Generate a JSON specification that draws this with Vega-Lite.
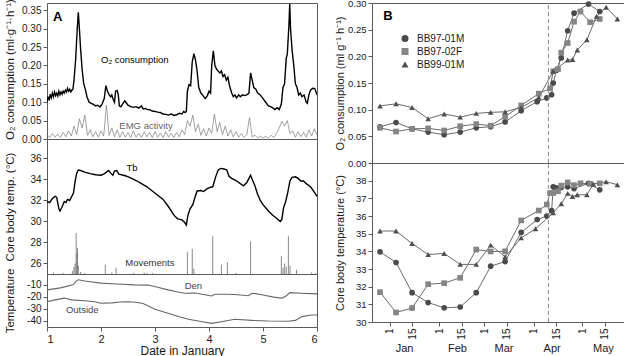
{
"$schema": "https://vega.github.io/schema/vega-lite/v6.json",
"padding": {"left": 3, "top": -3, "right": 0, "bottom": 0},
"spacing": 12,
"config": {
  "font": "Liberation Sans",
  "view": {"stroke": "#5a5a5a", "strokeWidth": 1},
  "axis": {"domain": false, "grid": false, "tickColor": "#5a5a5a", "tickSize": 4, "labelFontSize": 10, "labelColor": "#1a1a1a", "titleFontSize": 11.5, "titleFontWeight": "normal", "titleColor": "#1a1a1a", "labelPadding": 2}
},
"datasets": {
  "emg": [
    {"day":1.00,"v":0.012},{"day":1.05,"v":0.004},{"day":1.10,"v":0.015},{"day":1.15,"v":0.005},{"day":1.20,"v":0.013},{"day":1.25,"v":0.004},{"day":1.30,"v":0.018},{"day":1.35,"v":0.006},{"day":1.40,"v":0.022},{"day":1.45,"v":0.008},
    {"day":1.50,"v":0.035},{"day":1.55,"v":0.012},{"day":1.60,"v":0.055},{"day":1.65,"v":0.03},{"day":1.70,"v":0.065},{"day":1.75,"v":0.01},{"day":1.80,"v":0.025},{"day":1.85,"v":0.006},{"day":1.90,"v":0.02},{"day":1.95,"v":0.005},
    {"day":2.00,"v":0.022},{"day":2.05,"v":0.008},{"day":2.10,"v":0.092},{"day":2.15,"v":0.01},{"day":2.20,"v":0.03},{"day":2.25,"v":0.006},{"day":2.30,"v":0.025},{"day":2.35,"v":0.004},{"day":2.40,"v":0.02},{"day":2.45,"v":0.005},
    {"day":2.50,"v":0.018},{"day":2.55,"v":0.004},{"day":2.60,"v":0.022},{"day":2.65,"v":0.005},{"day":2.70,"v":0.015},{"day":2.75,"v":0.004},{"day":2.80,"v":0.02},{"day":2.85,"v":0.006},{"day":2.90,"v":0.018},{"day":2.95,"v":0.004},
    {"day":3.00,"v":0.02},{"day":3.05,"v":0.005},{"day":3.10,"v":0.016},{"day":3.15,"v":0.004},{"day":3.20,"v":0.02},{"day":3.25,"v":0.005},{"day":3.30,"v":0.015},{"day":3.35,"v":0.004},{"day":3.40,"v":0.018},{"day":3.45,"v":0.006},
    {"day":3.50,"v":0.025},{"day":3.55,"v":0.012},{"day":3.60,"v":0.05},{"day":3.65,"v":0.035},{"day":3.70,"v":0.065},{"day":3.75,"v":0.02},{"day":3.80,"v":0.04},{"day":3.85,"v":0.01},{"day":3.90,"v":0.028},{"day":3.95,"v":0.008},
    {"day":4.00,"v":0.03},{"day":4.05,"v":0.015},{"day":4.10,"v":0.068},{"day":4.15,"v":0.02},{"day":4.20,"v":0.045},{"day":4.25,"v":0.012},{"day":4.30,"v":0.035},{"day":4.35,"v":0.008},{"day":4.40,"v":0.025},{"day":4.45,"v":0.006},
    {"day":4.50,"v":0.02},{"day":4.55,"v":0.005},{"day":4.60,"v":0.015},{"day":4.65,"v":0.004},{"day":4.70,"v":0.012},{"day":4.75,"v":0.058},{"day":4.80,"v":0.006},{"day":4.85,"v":0.01},{"day":4.90,"v":0.003},{"day":4.95,"v":0.008},
    {"day":5.00,"v":0.003},{"day":5.05,"v":0.007},{"day":5.10,"v":0.003},{"day":5.15,"v":0.01},{"day":5.20,"v":0.004},{"day":5.25,"v":0.015},{"day":5.30,"v":0.03},{"day":5.35,"v":0.048},{"day":5.40,"v":0.035},{"day":5.45,"v":0.05},
    {"day":5.50,"v":0.015},{"day":5.55,"v":0.022},{"day":5.60,"v":0.005},{"day":5.65,"v":0.02},{"day":5.70,"v":0.006},{"day":5.75,"v":0.018},{"day":5.80,"v":0.005},{"day":5.85,"v":0.025},{"day":5.90,"v":0.008},{"day":5.95,"v":0.028},
    {"day":6.00,"v":0.01}
  ],
  "o2a": [
    {"day":1.00,"v":0.100},{"day":1.02,"v":0.115},{"day":1.04,"v":0.105},{"day":1.06,"v":0.122},{"day":1.08,"v":0.112},{"day":1.10,"v":0.125},{"day":1.12,"v":0.115},{"day":1.14,"v":0.128},{"day":1.16,"v":0.118},{"day":1.18,"v":0.125},
    {"day":1.20,"v":0.117},{"day":1.22,"v":0.13},{"day":1.24,"v":0.12},{"day":1.26,"v":0.128},{"day":1.28,"v":0.122},{"day":1.30,"v":0.13},{"day":1.32,"v":0.125},{"day":1.34,"v":0.133},{"day":1.36,"v":0.128},{"day":1.38,"v":0.138},
    {"day":1.40,"v":0.13},{"day":1.42,"v":0.135},{"day":1.44,"v":0.128},{"day":1.46,"v":0.133},{"day":1.48,"v":0.135},{"day":1.50,"v":0.16},{"day":1.53,"v":0.215},{"day":1.56,"v":0.3},{"day":1.58,"v":0.345},{"day":1.60,"v":0.3},
    {"day":1.62,"v":0.25},{"day":1.65,"v":0.19},{"day":1.68,"v":0.15},{"day":1.71,"v":0.135},{"day":1.74,"v":0.115},{"day":1.78,"v":0.10},{"day":1.82,"v":0.097},{"day":1.86,"v":0.094},{"day":1.90,"v":0.09},{"day":1.94,"v":0.092},
    {"day":1.98,"v":0.087},{"day":2.02,"v":0.095},{"day":2.06,"v":0.11},{"day":2.09,"v":0.145},{"day":2.12,"v":0.13},{"day":2.15,"v":0.12},{"day":2.18,"v":0.115},{"day":2.20,"v":0.12},{"day":2.22,"v":0.11},{"day":2.25,"v":0.1},
    {"day":2.27,"v":0.13},{"day":2.30,"v":0.132},{"day":2.32,"v":0.12},{"day":2.34,"v":0.09},{"day":2.37,"v":0.088},{"day":2.40,"v":0.095},{"day":2.44,"v":0.104},{"day":2.47,"v":0.098},{"day":2.50,"v":0.092},{"day":2.55,"v":0.088},
    {"day":2.60,"v":0.086},{"day":2.65,"v":0.088},{"day":2.70,"v":0.084},{"day":2.75,"v":0.09},{"day":2.78,"v":0.082},{"day":2.82,"v":0.083},{"day":2.86,"v":0.08},{"day":2.90,"v":0.08},{"day":2.95,"v":0.076},{"day":3.00,"v":0.075},
    {"day":3.05,"v":0.073},{"day":3.10,"v":0.072},{"day":3.15,"v":0.068},{"day":3.20,"v":0.067},{"day":3.25,"v":0.065},{"day":3.30,"v":0.068},{"day":3.35,"v":0.064},{"day":3.40,"v":0.066},{"day":3.45,"v":0.07},{"day":3.50,"v":0.068},
    {"day":3.53,"v":0.075},{"day":3.56,"v":0.072},{"day":3.58,"v":0.075},{"day":3.60,"v":0.13},{"day":3.63,"v":0.148},{"day":3.66,"v":0.145},{"day":3.69,"v":0.21},{"day":3.72,"v":0.232},{"day":3.75,"v":0.215},{"day":3.78,"v":0.185},
    {"day":3.81,"v":0.14},{"day":3.85,"v":0.125},{"day":3.89,"v":0.118},{"day":3.93,"v":0.11},{"day":3.97,"v":0.118},{"day":4.00,"v":0.13},{"day":4.03,"v":0.125},{"day":4.05,"v":0.2},{"day":4.08,"v":0.24},{"day":4.11,"v":0.2},
    {"day":4.14,"v":0.19},{"day":4.17,"v":0.185},{"day":4.20,"v":0.18},{"day":4.23,"v":0.185},{"day":4.26,"v":0.17},{"day":4.29,"v":0.175},{"day":4.32,"v":0.16},{"day":4.35,"v":0.168},{"day":4.38,"v":0.145},{"day":4.42,"v":0.125},
    {"day":4.45,"v":0.115},{"day":4.48,"v":0.12},{"day":4.51,"v":0.112},{"day":4.55,"v":0.12},{"day":4.58,"v":0.115},{"day":4.62,"v":0.12},{"day":4.66,"v":0.118},{"day":4.70,"v":0.12},{"day":4.74,"v":0.125},{"day":4.77,"v":0.18},
    {"day":4.80,"v":0.16},{"day":4.83,"v":0.14},{"day":4.87,"v":0.135},{"day":4.90,"v":0.125},{"day":4.95,"v":0.12},{"day":5.00,"v":0.11},{"day":5.05,"v":0.1},{"day":5.10,"v":0.09},{"day":5.14,"v":0.088},{"day":5.18,"v":0.085},
    {"day":5.22,"v":0.08},{"day":5.26,"v":0.085},{"day":5.30,"v":0.08},{"day":5.34,"v":0.095},{"day":5.37,"v":0.14},{"day":5.40,"v":0.15},{"day":5.43,"v":0.22},{"day":5.45,"v":0.23},{"day":5.48,"v":0.31},{"day":5.495,"v":0.368},
    {"day":5.51,"v":0.3},{"day":5.54,"v":0.24},{"day":5.57,"v":0.2},{"day":5.60,"v":0.15},{"day":5.63,"v":0.14},{"day":5.66,"v":0.12},{"day":5.69,"v":0.125},{"day":5.72,"v":0.115},{"day":5.76,"v":0.12},{"day":5.80,"v":0.1},
    {"day":5.82,"v":0.097},{"day":5.85,"v":0.12},{"day":5.88,"v":0.133},{"day":5.92,"v":0.138},{"day":5.96,"v":0.137},{"day":6.00,"v":0.12}
  ],
  "tb": [
    {"day":1.00,"v":31.9},{"day":1.05,"v":31.8},{"day":1.10,"v":32.2},{"day":1.15,"v":32.4},{"day":1.18,"v":32.3},{"day":1.22,"v":31.2},{"day":1.24,"v":31.0},{"day":1.28,"v":31.4},{"day":1.32,"v":31.9},{"day":1.35,"v":31.8},
    {"day":1.38,"v":32.1},{"day":1.42,"v":32.0},{"day":1.46,"v":32.4},{"day":1.49,"v":32.7},{"day":1.52,"v":33.8},{"day":1.55,"v":34.6},{"day":1.58,"v":34.9},{"day":1.62,"v":34.85},{"day":1.70,"v":34.7},{"day":1.80,"v":34.55},
    {"day":1.90,"v":34.45},{"day":2.00,"v":34.4},{"day":2.05,"v":34.5},{"day":2.10,"v":34.7},{"day":2.14,"v":34.85},{"day":2.18,"v":34.6},{"day":2.22,"v":34.4},{"day":2.25,"v":34.8},{"day":2.29,"v":34.85},{"day":2.33,"v":34.5},
    {"day":2.38,"v":34.45},{"day":2.45,"v":34.35},{"day":2.55,"v":34.15},{"day":2.65,"v":33.9},{"day":2.75,"v":33.6},{"day":2.85,"v":33.3},{"day":2.95,"v":32.9},{"day":3.05,"v":32.5},{"day":3.15,"v":32.1},{"day":3.25,"v":31.4},
    {"day":3.35,"v":30.6},{"day":3.42,"v":30.25},{"day":3.50,"v":30.15},{"day":3.55,"v":29.9},{"day":3.58,"v":29.65},{"day":3.61,"v":30.6},{"day":3.65,"v":31.2},{"day":3.70,"v":31.6},{"day":3.74,"v":32.3},{"day":3.78,"v":32.9},
    {"day":3.85,"v":32.95},{"day":3.90,"v":32.85},{"day":3.96,"v":33.1},{"day":4.02,"v":33.25},{"day":4.07,"v":33.3},{"day":4.12,"v":34.2},{"day":4.17,"v":34.9},{"day":4.22,"v":35.05},{"day":4.28,"v":35.0},{"day":4.33,"v":34.9},
    {"day":4.37,"v":34.3},{"day":4.42,"v":34.1},{"day":4.50,"v":33.9},{"day":4.58,"v":33.6},{"day":4.64,"v":33.4},{"day":4.70,"v":33.7},{"day":4.74,"v":34.1},{"day":4.77,"v":34.4},{"day":4.80,"v":34.0},{"day":4.85,"v":33.4},
    {"day":4.90,"v":32.6},{"day":4.95,"v":32.0},{"day":5.00,"v":31.6},{"day":5.05,"v":31.3},{"day":5.10,"v":31.0},{"day":5.18,"v":30.6},{"day":5.25,"v":30.3},{"day":5.32,"v":30.0},{"day":5.35,"v":30.2},{"day":5.38,"v":31.3},
    {"day":5.42,"v":31.9},{"day":5.46,"v":32.8},{"day":5.50,"v":33.9},{"day":5.54,"v":34.2},{"day":5.60,"v":34.25},{"day":5.65,"v":34.1},{"day":5.70,"v":33.85},{"day":5.75,"v":33.85},{"day":5.80,"v":33.6},{"day":5.88,"v":33.3},
    {"day":5.95,"v":32.8},{"day":6.00,"v":32.4}
  ],
  "mov": [
    {"day":1.12,"v":25.15},{"day":1.3,"v":25.1},{"day":1.47,"v":25.3},{"day":1.5,"v":25.7},{"day":1.52,"v":26.0},{"day":1.54,"v":28.9},{"day":1.555,"v":27.0},{"day":1.565,"v":27.5},{"day":1.58,"v":25.8},{"day":1.62,"v":25.2},
    {"day":1.7,"v":25.1},{"day":2.08,"v":25.9},{"day":2.2,"v":25.15},{"day":2.28,"v":25.6},{"day":2.6,"v":25.1},{"day":2.8,"v":25.15},{"day":2.85,"v":25.1},{"day":2.95,"v":25.1},{"day":3.6,"v":27.1},{"day":3.69,"v":27.4},
    {"day":3.72,"v":25.5},{"day":4.07,"v":28.6},{"day":4.23,"v":25.9},{"day":4.34,"v":26.1},{"day":4.5,"v":25.1},{"day":4.77,"v":28.1},{"day":5.34,"v":26.7},{"day":5.37,"v":25.6},{"day":5.40,"v":26.0},{"day":5.43,"v":25.7},
    {"day":5.47,"v":28.6},{"day":5.5,"v":25.8},{"day":5.62,"v":25.4},{"day":5.9,"v":25.15},{"day":5.97,"v":25.1}
  ],
  "env": [
    {"s":"Den","day":1.00,"v":-14.2},{"s":"Den","day":1.25,"v":-12.5},{"s":"Den","day":1.48,"v":-10.0},{"s":"Den","day":1.55,"v":-6.5},{"s":"Den","day":1.58,"v":-5.8},{"s":"Den","day":1.7,"v":-6.8},
    {"s":"Den","day":2.0,"v":-8.6},{"s":"Den","day":2.3,"v":-9.3},{"s":"Den","day":2.62,"v":-10.0},{"s":"Den","day":2.87,"v":-10.2},{"s":"Den","day":3.05,"v":-12.0},{"s":"Den","day":3.24,"v":-14.2},
    {"s":"Den","day":3.4,"v":-15.8},{"s":"Den","day":3.55,"v":-17.0},{"s":"Den","day":3.74,"v":-16.8},{"s":"Den","day":3.9,"v":-18.0},{"s":"Den","day":4.05,"v":-19.2},{"s":"Den","day":4.11,"v":-17.8},
    {"s":"Den","day":4.3,"v":-17.8},{"s":"Den","day":4.48,"v":-18.0},{"s":"Den","day":4.73,"v":-19.0},{"s":"Den","day":4.78,"v":-17.5},{"s":"Den","day":4.82,"v":-17.0},{"s":"Den","day":5.0,"v":-18.5},
    {"s":"Den","day":5.2,"v":-20.2},{"s":"Den","day":5.35,"v":-21.0},{"s":"Den","day":5.42,"v":-19.5},{"s":"Den","day":5.5,"v":-16.5},{"s":"Den","day":5.7,"v":-17.0},{"s":"Den","day":6.0,"v":-17.5},
    {"s":"Outside","day":1.00,"v":-24.0},{"s":"Outside","day":1.15,"v":-22.5},{"s":"Outside","day":1.32,"v":-21.0},{"s":"Outside","day":1.45,"v":-22.5},{"s":"Outside","day":1.7,"v":-23.2},{"s":"Outside","day":1.88,"v":-24.0},
    {"s":"Outside","day":2.0,"v":-25.3},{"s":"Outside","day":2.2,"v":-25.0},{"s":"Outside","day":2.35,"v":-24.3},{"s":"Outside","day":2.5,"v":-24.0},{"s":"Outside","day":2.65,"v":-24.5},{"s":"Outside","day":2.78,"v":-25.5},
    {"s":"Outside","day":3.0,"v":-30.3},{"s":"Outside","day":3.24,"v":-33.6},{"s":"Outside","day":3.45,"v":-36.5},{"s":"Outside","day":3.62,"v":-38.6},{"s":"Outside","day":3.85,"v":-40.5},{"s":"Outside","day":4.05,"v":-42.0},
    {"s":"Outside","day":4.25,"v":-40.5},{"s":"Outside","day":4.48,"v":-38.6},{"s":"Outside","day":4.8,"v":-39.5},{"s":"Outside","day":5.1,"v":-40.0},{"s":"Outside","day":5.47,"v":-40.2},{"s":"Outside","day":5.6,"v":-39.5},
    {"s":"Outside","day":5.72,"v":-36.4},{"s":"Outside","day":5.9,"v":-35.0},{"s":"Outside","day":6.0,"v":-35.0}
  ],
  "o2b": [
    {"id":"BB97-01M","date":"2000-12-26","v":0.068},{"id":"BB97-01M","date":"2001-01-05","v":0.076},{"id":"BB97-01M","date":"2001-01-15","v":0.064},{"id":"BB97-01M","date":"2001-01-25","v":0.058},
    {"id":"BB97-01M","date":"2001-02-04","v":0.053},{"id":"BB97-01M","date":"2001-02-14","v":0.058},{"id":"BB97-01M","date":"2001-02-24","v":0.066},{"id":"BB97-01M","date":"2001-03-05","v":0.068},
    {"id":"BB97-01M","date":"2001-03-14","v":0.077},{"id":"BB97-01M","date":"2001-03-24","v":0.098},{"id":"BB97-01M","date":"2001-04-03","v":0.115},{"id":"BB97-01M","date":"2001-04-09","v":0.122},
    {"id":"BB97-01M","date":"2001-04-12","v":0.128},{"id":"BB97-01M","date":"2001-04-13","v":0.150},{"id":"BB97-01M","date":"2001-04-15","v":0.174},{"id":"BB97-01M","date":"2001-04-18","v":0.197},
    {"id":"BB97-01M","date":"2001-04-22","v":0.248},{"id":"BB97-01M","date":"2001-04-26","v":0.281},{"id":"BB97-01M","date":"2001-05-05","v":0.298},{"id":"BB97-01M","date":"2001-05-12","v":0.284},
    {"id":"BB97-02F","date":"2000-12-26","v":0.066},{"id":"BB97-02F","date":"2001-01-05","v":0.059},{"id":"BB97-02F","date":"2001-01-15","v":0.064},{"id":"BB97-02F","date":"2001-01-25","v":0.065},
    {"id":"BB97-02F","date":"2001-02-04","v":0.061},{"id":"BB97-02F","date":"2001-02-14","v":0.069},{"id":"BB97-02F","date":"2001-02-24","v":0.073},{"id":"BB97-02F","date":"2001-03-05","v":0.070},
    {"id":"BB97-02F","date":"2001-03-14","v":0.087},{"id":"BB97-02F","date":"2001-03-24","v":0.108},{"id":"BB97-02F","date":"2001-04-04","v":0.130},{"id":"BB97-02F","date":"2001-04-11","v":0.14},
    {"id":"BB97-02F","date":"2001-04-13","v":0.172},{"id":"BB97-02F","date":"2001-04-16","v":0.176},{"id":"BB97-02F","date":"2001-04-18","v":0.207},{"id":"BB97-02F","date":"2001-04-22","v":0.225},
    {"id":"BB97-02F","date":"2001-04-26","v":0.265},{"id":"BB97-02F","date":"2001-04-30","v":0.284},{"id":"BB97-02F","date":"2001-05-06","v":0.264},{"id":"BB97-02F","date":"2001-05-12","v":0.27},
    {"id":"BB99-01M","date":"2000-12-26","v":0.107},{"id":"BB99-01M","date":"2001-01-05","v":0.111},{"id":"BB99-01M","date":"2001-01-15","v":0.104},{"id":"BB99-01M","date":"2001-01-25","v":0.083},
    {"id":"BB99-01M","date":"2001-02-04","v":0.092},{"id":"BB99-01M","date":"2001-02-14","v":0.086},{"id":"BB99-01M","date":"2001-02-24","v":0.093},{"id":"BB99-01M","date":"2001-03-05","v":0.095},
    {"id":"BB99-01M","date":"2001-03-14","v":0.096},{"id":"BB99-01M","date":"2001-03-24","v":0.104},{"id":"BB99-01M","date":"2001-04-04","v":0.123},{"id":"BB99-01M","date":"2001-04-13","v":0.172},
    {"id":"BB99-01M","date":"2001-04-22","v":0.193},{"id":"BB99-01M","date":"2001-04-25","v":0.194},{"id":"BB99-01M","date":"2001-04-28","v":0.212},{"id":"BB99-01M","date":"2001-05-04","v":0.231},
    {"id":"BB99-01M","date":"2001-05-10","v":0.275},{"id":"BB99-01M","date":"2001-05-16","v":0.292},{"id":"BB99-01M","date":"2001-05-23","v":0.27}
  ],
  "tbb": [
    {"id":"BB97-01M","date":"2000-12-26","v":33.97},{"id":"BB97-01M","date":"2001-01-05","v":33.37},{"id":"BB97-01M","date":"2001-01-15","v":31.66},{"id":"BB97-01M","date":"2001-01-25","v":31.1},
    {"id":"BB97-01M","date":"2001-02-04","v":30.8},{"id":"BB97-01M","date":"2001-02-14","v":30.85},{"id":"BB97-01M","date":"2001-02-24","v":31.66},{"id":"BB97-01M","date":"2001-03-05","v":33.16},
    {"id":"BB97-01M","date":"2001-03-14","v":33.42},{"id":"BB97-01M","date":"2001-03-24","v":35.07},{"id":"BB97-01M","date":"2001-04-03","v":35.8},{"id":"BB97-01M","date":"2001-04-09","v":36.0},
    {"id":"BB97-01M","date":"2001-04-12","v":36.3},{"id":"BB97-01M","date":"2001-04-13","v":37.65},{"id":"BB97-01M","date":"2001-04-15","v":37.6},{"id":"BB97-01M","date":"2001-04-18","v":37.62},
    {"id":"BB97-01M","date":"2001-04-22","v":37.65},{"id":"BB97-01M","date":"2001-04-26","v":37.55},{"id":"BB97-01M","date":"2001-05-05","v":37.85},{"id":"BB97-01M","date":"2001-05-12","v":37.48},
    {"id":"BB97-02F","date":"2000-12-26","v":31.69},{"id":"BB97-02F","date":"2001-01-05","v":30.54},{"id":"BB97-02F","date":"2001-01-15","v":30.79},{"id":"BB97-02F","date":"2001-01-25","v":32.14},
    {"id":"BB97-02F","date":"2001-02-04","v":32.2},{"id":"BB97-02F","date":"2001-02-14","v":32.5},{"id":"BB97-02F","date":"2001-02-24","v":34.1},{"id":"BB97-02F","date":"2001-03-05","v":33.99},
    {"id":"BB97-02F","date":"2001-03-14","v":34.0},{"id":"BB97-02F","date":"2001-03-24","v":35.75},{"id":"BB97-02F","date":"2001-04-04","v":36.31},{"id":"BB97-02F","date":"2001-04-09","v":36.65},
    {"id":"BB97-02F","date":"2001-04-11","v":37.3},{"id":"BB97-02F","date":"2001-04-13","v":37.3},{"id":"BB97-02F","date":"2001-04-16","v":37.4},{"id":"BB97-02F","date":"2001-04-18","v":37.72},
    {"id":"BB97-02F","date":"2001-04-22","v":37.9},{"id":"BB97-02F","date":"2001-04-26","v":37.75},{"id":"BB97-02F","date":"2001-04-30","v":37.85},{"id":"BB97-02F","date":"2001-05-06","v":37.82},
    {"id":"BB97-02F","date":"2001-05-12","v":37.85},
    {"id":"BB99-01M","date":"2000-12-26","v":35.15},{"id":"BB99-01M","date":"2001-01-05","v":35.15},{"id":"BB99-01M","date":"2001-01-15","v":34.44},{"id":"BB99-01M","date":"2001-01-25","v":33.82},
    {"id":"BB99-01M","date":"2001-02-04","v":33.88},{"id":"BB99-01M","date":"2001-02-14","v":33.26},{"id":"BB99-01M","date":"2001-02-24","v":33.26},{"id":"BB99-01M","date":"2001-03-05","v":34.35},
    {"id":"BB99-01M","date":"2001-03-14","v":33.69},{"id":"BB99-01M","date":"2001-03-24","v":34.76},{"id":"BB99-01M","date":"2001-04-02","v":35.28},{"id":"BB99-01M","date":"2001-04-13","v":36.18},
    {"id":"BB99-01M","date":"2001-04-18","v":36.69},{"id":"BB99-01M","date":"2001-04-22","v":37.28},{"id":"BB99-01M","date":"2001-04-25","v":37.1},{"id":"BB99-01M","date":"2001-04-28","v":37.2},
    {"id":"BB99-01M","date":"2001-05-04","v":37.2},{"id":"BB99-01M","date":"2001-05-08","v":37.8},{"id":"BB99-01M","date":"2001-05-16","v":37.94},{"id":"BB99-01M","date":"2001-05-23","v":37.77}
  ]
},
"hconcat": [
  {
    "spacing": 0,
    "bounds": "flush",
    "vconcat": [
      {
        "width": 270, "height": 136,
        "encoding": {
          "x": {"field": "day", "type": "quantitative", "scale": {"domain": [1, 6], "nice": false, "zero": false}, "axis": null},
          "y": {"field": "v", "type": "quantitative", "scale": {"domain": [0, 0.37], "nice": false, "zero": false},
                "axis": {"values": [0, 0.05, 0.1, 0.15, 0.2, 0.25, 0.3, 0.35], "format": ".2f", "title": "O₂ consumption (ml·g⁻¹·h⁻¹)", "titleX": -37, "titleY": 66, "titleBaseline": "middle"}}
        },
        "layer": [
          {"data": {"name": "emg"}, "mark": {"type": "line", "color": "#7a7a7a", "strokeWidth": 0.7}},
          {"data": {"name": "o2a"}, "mark": {"type": "line", "color": "#000000", "strokeWidth": 1.4, "clip": true}},
          {"data": {"values": [{"day": 1.11, "v": 0.331, "t": "A"}]}, "mark": {"type": "text", "align": "left", "baseline": "middle", "fontSize": 13, "fontWeight": "bold", "color": "#000000"}, "encoding": {"text": {"field": "t"}}},
          {"data": {"values": [{"day": 2.0, "v": 0.214, "t": "O₂ consumption"}]}, "mark": {"type": "text", "align": "left", "baseline": "middle", "fontSize": 9.5, "color": "#000000"}, "encoding": {"text": {"field": "t"}}},
          {"data": {"values": [{"day": 2.34, "v": 0.035, "t": "EMG activity"}]}, "mark": {"type": "text", "align": "left", "baseline": "middle", "fontSize": 9.5, "color": "#666666"}, "encoding": {"text": {"field": "t"}}}
        ]
      },
      {
        "width": 270, "height": 135,
        "encoding": {
          "x": {"field": "day", "type": "quantitative", "scale": {"domain": [1, 6], "nice": false, "zero": false}, "axis": null},
          "y": {"field": "v", "type": "quantitative", "scale": {"domain": [25, 37.85], "nice": false, "zero": false},
                "axis": {"values": [26, 28, 30, 32, 34, 36], "title": "Core  body temp. (°C)", "titleX": -37, "titleBaseline": "middle"}}
        },
        "layer": [
          {"data": {"name": "mov"}, "mark": {"type": "rule", "color": "#6a6a6a", "strokeWidth": 0.8}, "encoding": {"y2": {"datum": 25}}},
          {"data": {"name": "tb"}, "mark": {"type": "line", "color": "#000000", "strokeWidth": 1.4}},
          {"data": {"values": [{"day": 2.47, "v": 35.1, "t": "Tb"}]}, "mark": {"type": "text", "align": "left", "baseline": "middle", "fontSize": 9.5, "color": "#000000"}, "encoding": {"text": {"field": "t"}}},
          {"data": {"values": [{"day": 2.45, "v": 26.0, "t": "Movements"}]}, "mark": {"type": "text", "align": "left", "baseline": "middle", "fontSize": 9.5, "color": "#333333"}, "encoding": {"text": {"field": "t"}}}
        ]
      },
      {
        "width": 270, "height": 53,
        "encoding": {
          "x": {"field": "day", "type": "quantitative", "scale": {"domain": [1, 6], "nice": false, "zero": false},
                "axis": {"values": [1, 2, 3, 4, 5, 6], "format": "d", "title": "Date in January", "labelFontSize": 11, "titleFontSize": 12, "titlePadding": 1}},
          "y": {"field": "v", "type": "quantitative", "scale": {"domain": [-45, -1], "nice": false, "zero": false},
                "axis": {"values": [-10, -20, -30, -40], "labelExpr": "'-' + (-datum.value)", "title": "Temperature", "titleX": -37, "titleBaseline": "middle"}}
        },
        "layer": [
          {"data": {"name": "env"}, "mark": {"type": "line", "color": "#666666", "strokeWidth": 1.1}, "encoding": {"detail": {"field": "s"}}},
          {"data": {"values": [{"day": 3.55, "v": -10.8, "t": "Den"}, {"day": 1.35, "v": -30.8, "t": "Outside"}]}, "mark": {"type": "text", "align": "left", "baseline": "middle", "fontSize": 9.5, "color": "#444444"}, "encoding": {"text": {"field": "t"}}}
        ]
      }
    ]
  },
  {
    "spacing": 0,
    "bounds": "flush",
    "vconcat": [
      {
        "width": 255, "height": 160,
        "encoding": {
          "x": {"field": "date", "type": "temporal", "scale": {"type": "utc", "domain": [{"year": 2000, "month": 12, "date": 21, "utc": true}, {"year": 2001, "month": 5, "date": 29, "utc": true}]}, "axis": null},
          "y": {"field": "v", "type": "quantitative", "scale": {"domain": [0, 0.3], "nice": false, "zero": false},
                "axis": {"values": [0, 0.05, 0.1, 0.15, 0.2, 0.25, 0.3], "format": ".2f", "labelFontSize": 9.5, "title": "O₂ consumption (ml g⁻¹ h⁻¹)", "titleFontSize": 11, "titleX": -32, "titleBaseline": "middle"}}
        },
        "layer": [
          {"data": {"name": "o2b"}, "mark": {"type": "line", "strokeWidth": 1, "color": "#6a6a6a"}, "encoding": {"detail": {"field": "id"}}},
          {"data": {"name": "o2b"}, "mark": {"type": "point", "filled": true, "opacity": 1, "size": 32},
           "encoding": {
             "color": {"field": "id", "type": "nominal", "scale": {"domain": ["BB97-01M", "BB97-02F", "BB99-01M"], "range": ["#4a4a4a", "#858585", "#4f4f4f"]},
                       "legend": {"title": null, "orient": "none", "legendX": 353, "legendY": 30.5, "padding": 0, "symbolSize": 49, "labelFontSize": 10, "labelOffset": 7, "rowPadding": 3, "labelColor": "#1a1a1a",
                                  "encode": {"symbols": {"shape": {"value": {"signal": "datum.value === 'BB97-02F' ? 'M-1,0H1M-0.27,-0.27H0.27V0.27H-0.27Z' : (datum.value === 'BB99-01M' ? 'M-1,0H1M0,-0.36L0.33,0.22H-0.33Z' : 'M-1,0H1M-0.32,0A0.32,0.32,0,1,1,0.32,0A0.32,0.32,0,1,1,-0.32,0Z')"}}, "size": {"value": 324}, "stroke": {"value": "#6a6a6a"}, "strokeWidth": {"value": 1}}}}},
             "shape": {"field": "id", "type": "nominal", "scale": {"domain": ["BB97-01M", "BB97-02F", "BB99-01M"], "range": ["circle", "square", "triangle-up"]},
                       "legend": {"title": null, "orient": "none", "legendX": 353, "legendY": 30.5, "padding": 0, "symbolSize": 49, "labelFontSize": 10, "labelOffset": 7, "rowPadding": 3, "labelColor": "#1a1a1a",
                                  "encode": {"symbols": {"shape": {"value": {"signal": "datum.value === 'BB97-02F' ? 'M-1,0H1M-0.27,-0.27H0.27V0.27H-0.27Z' : (datum.value === 'BB99-01M' ? 'M-1,0H1M0,-0.36L0.33,0.22H-0.33Z' : 'M-1,0H1M-0.32,0A0.32,0.32,0,1,1,0.32,0A0.32,0.32,0,1,1,-0.32,0Z')"}}, "size": {"value": 324}, "stroke": {"value": "#6a6a6a"}, "strokeWidth": {"value": 1}}}}}
           }},
          {"data": {"values": [{"date": "2001-04-10", "v": 0, "v2": 0.3}]}, "mark": {"type": "rule", "color": "#8a8a8a", "strokeDash": [4, 3], "strokeWidth": 1},
           "encoding": {"y2": {"field": "v2"}}},
          {"data": {"values": [{"date": "2000-12-28", "v": 0.2765, "t": "B"}]}, "mark": {"type": "text", "align": "left", "baseline": "middle", "fontSize": 13, "fontWeight": "bold", "color": "#000000"},
           "encoding": {"text": {"field": "t"}}}
        ]
      },
      {
        "width": 255, "height": 159,
        "resolve": {"axis": {"x": "independent"}},
        "layer": [
          {"data": {"name": "tbb"}, "mark": {"type": "line", "strokeWidth": 1, "color": "#6a6a6a"},
           "encoding": {
             "x": {"field": "date", "type": "temporal", "scale": {"type": "utc", "domain": [{"year": 2000, "month": 12, "date": 21, "utc": true}, {"year": 2001, "month": 5, "date": 29, "utc": true}]},
                   "axis": {"orient": "bottom", "title": null, "labelExpr": "utcFormat(datum.value, '%-d')", "labelAngle": -90, "labelFontSize": 10, "tickSize": 4, "labelPadding": 2,
                            "values": [{"year": 2001, "month": 1, "date": 1, "utc": true}, {"year": 2001, "month": 1, "date": 15, "utc": true}, {"year": 2001, "month": 2, "date": 1, "utc": true}, {"year": 2001, "month": 2, "date": 15, "utc": true}, {"year": 2001, "month": 3, "date": 1, "utc": true}, {"year": 2001, "month": 3, "date": 15, "utc": true}, {"year": 2001, "month": 4, "date": 1, "utc": true}, {"year": 2001, "month": 4, "date": 15, "utc": true}, {"year": 2001, "month": 5, "date": 1, "utc": true}, {"year": 2001, "month": 5, "date": 15, "utc": true}]}},
             "y": {"field": "v", "type": "quantitative", "scale": {"domain": [30, 39], "nice": false, "zero": false},
                   "axis": {"values": [30, 31, 32, 33, 34, 35, 36, 37, 38], "labelFontSize": 9.5, "title": "Core body temperature (°C)", "titleFontSize": 11, "titleX": -32, "titleBaseline": "middle"}},
             "detail": {"field": "id"}
           }},
          {"data": {"name": "tbb"}, "mark": {"type": "point", "filled": true, "opacity": 1, "size": 32},
           "encoding": {
             "x": {"field": "date", "type": "temporal", "scale": {"type": "utc", "domain": [{"year": 2000, "month": 12, "date": 21, "utc": true}, {"year": 2001, "month": 5, "date": 29, "utc": true}]}, "axis": null},
             "y": {"field": "v", "type": "quantitative", "scale": {"domain": [30, 39], "nice": false, "zero": false},
                   "axis": {"values": [30, 31, 32, 33, 34, 35, 36, 37, 38], "labelFontSize": 9.5, "title": "Core body temperature (°C)", "titleFontSize": 11, "titleX": -32, "titleBaseline": "middle"}},
             "color": {"field": "id", "type": "nominal", "scale": {"domain": ["BB97-01M", "BB97-02F", "BB99-01M"], "range": ["#4a4a4a", "#858585", "#4f4f4f"]}, "legend": null},
             "shape": {"field": "id", "type": "nominal", "scale": {"domain": ["BB97-01M", "BB97-02F", "BB99-01M"], "range": ["circle", "square", "triangle-up"]}, "legend": null}
           }},
          {"data": {"values": [{"date": "2001-04-10", "v": 30, "v2": 39}]}, "mark": {"type": "rule", "color": "#8a8a8a", "strokeDash": [4, 3], "strokeWidth": 1},
           "encoding": {
             "x": {"field": "date", "type": "temporal", "scale": {"type": "utc", "domain": [{"year": 2000, "month": 12, "date": 21, "utc": true}, {"year": 2001, "month": 5, "date": 29, "utc": true}]},
                   "axis": {"orient": "bottom", "title": null, "labelExpr": "utcFormat(datum.value, '%b')", "labelAngle": 0, "labelFontSize": 11, "ticks": false, "tickSize": 0, "labelPadding": 0, "offset": 20, "domain": false,
                            "values": [{"year": 2001, "month": 1, "date": 10, "utc": true}, {"year": 2001, "month": 2, "date": 12, "utc": true}, {"year": 2001, "month": 3, "date": 13, "utc": true}, {"year": 2001, "month": 4, "date": 12, "utc": true}, {"year": 2001, "month": 5, "date": 14, "utc": true}]}},
             "y": {"field": "v", "type": "quantitative", "scale": {"domain": [30, 39], "nice": false, "zero": false},
                   "axis": {"values": [30, 31, 32, 33, 34, 35, 36, 37, 38], "labelFontSize": 9.5, "title": "Core body temperature (°C)", "titleFontSize": 11, "titleX": -32, "titleBaseline": "middle"}},
             "y2": {"field": "v2"}
           }}
        ]
      }
    ]
  }
]
}
